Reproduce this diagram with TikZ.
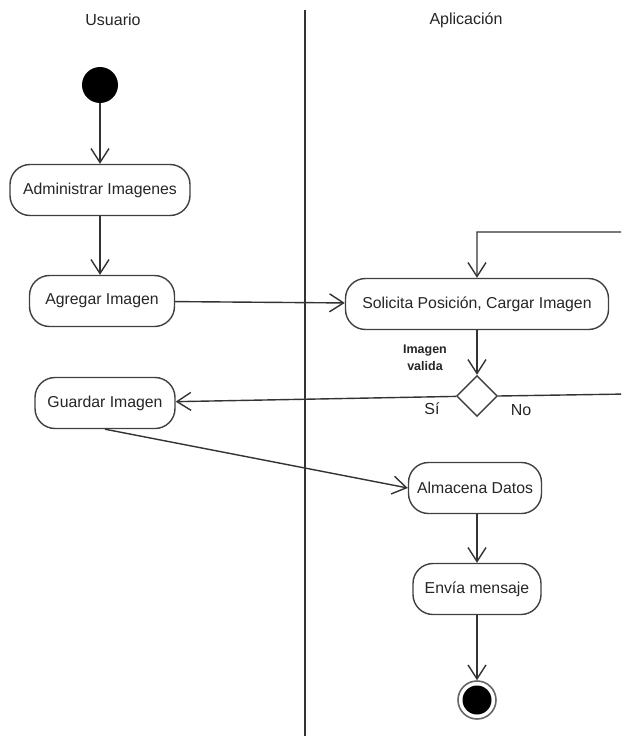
\documentclass[tikz,border=0pt]{standalone}
\usepackage{fontspec}
\setmainfont{Liberation Sans}
\usetikzlibrary{arrows.meta,shapes.geometric}
\tikzset{
  flecha/.style={draw=black!80, line width=1.4pt, -{Straight Barb[length=14pt,width=18pt,line width=1.4pt]}},
  actividad/.style={draw=black!75, line width=1.4pt, fill=white, rounded corners=20pt,
    minimum height=51pt, inner sep=0pt, text=black!85, font=\fontsize{15.8}{18}\selectfont},
  rotulo/.style={text=black!85, font=\fontsize{16}{18}\selectfont}
}
\begin{document}
\begin{tikzpicture}[x=1pt, y=-1pt]
  \clip (0,0) rectangle (621,736);
  \useasboundingbox[fill=white] (0,0) rectangle (621,736);

  \node[rotulo] (usuario) at (113,20) {Usuario};
  \node[rotulo] (aplicacion) at (466,20) {Aplicación};
  \draw[black!80, line width=1.4pt] (305,10) -- (305,736);

  \node[circle, fill=black, minimum size=36pt, inner sep=0pt] (inicio) at (100,85) {};
  \node[actividad, minimum width=180pt] (admin) at (100,190) {Administrar Imagenes};
  \node[actividad, minimum width=145pt] (agregar) at (102,301) {Agregar Imagen};
  \node[actividad, minimum width=263pt] (solicita) at (477,304) {Solicita Posición, Cargar Imagen};
  \node[diamond, draw=black!75, line width=1.4pt, fill=white, minimum size=41pt, inner sep=0pt] (decision) at (477,396) {};
  \node[actividad, minimum width=140pt] (guardar) at (105,403) {Guardar Imagen};
  \node[actividad, minimum width=133pt] (almacena) at (475,488) {Almacena Datos};
  \node[actividad, minimum width=128pt] (envia) at (477,589) {Envía mensaje};
  \node[circle, draw=black!60, line width=1.6pt, minimum size=38pt, inner sep=0pt] (fin) at (477,700) {};
  \node[circle, fill=black, minimum size=29pt, inner sep=0pt] (finint) at (fin) {};

  \node[text=black!85, font=\bfseries\fontsize{12.5}{17}\selectfont, align=center] (valida) at (425,358) {Imagen\\valida};
  \node[rotulo] (si) at (432,409) {Sí};
  \node[rotulo] (no) at (521,410) {No};

  \coordinate (vueltaA) at (628,394);
  \coordinate (vueltaB) at (477,232);

  \path[flecha] (inicio) -- (admin);
  \path[flecha] (admin.south) -- (admin.south |- agregar.north);
  \path[flecha] (agregar) -- (solicita);
  \path[flecha] (solicita) -- (decision);
  \path[flecha] (decision) -- (guardar);
  \path[flecha] (decision.east) -- (vueltaA) |- (vueltaB) -- (solicita);
  \path[flecha] (guardar.south) -- (almacena.west);
  \path[flecha] (envia.north |- almacena.south) -- (envia);
  \path[flecha] (envia) -- (fin);
\end{tikzpicture}
\end{document}
